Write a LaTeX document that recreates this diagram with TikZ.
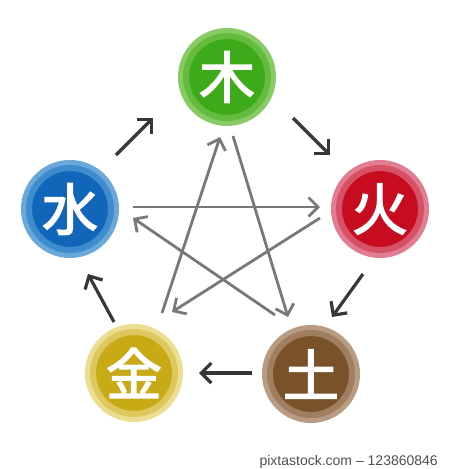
\documentclass[tikz,border=0pt]{standalone}
\usepackage{fontspec}
\usetikzlibrary{arrows.meta}
\newfontfamily\kanji{Noto Sans CJK JP}[FakeBold=2.5]
\newfontfamily\footfont{Liberation Sans}
\definecolor{gIn}{RGB}{60,170,25}\definecolor{gMid}{RGB}{100,187,62}\definecolor{gOut}{RGB}{135,203,100}
\definecolor{rIn}{RGB}{200,12,32}\definecolor{rMid}{RGB}{214,80,102}\definecolor{rOut}{RGB}{226,125,145}
\definecolor{bIn}{RGB}{18,102,186}\definecolor{bMid}{RGB}{62,140,205}\definecolor{bOut}{RGB}{105,168,217}
\definecolor{yIn}{RGB}{200,170,22}\definecolor{yMid}{RGB}{220,200,92}\definecolor{yOut}{RGB}{236,222,145}
\definecolor{nIn}{RGB}{122,82,42}\definecolor{nMid}{RGB}{160,126,96}\definecolor{nOut}{RGB}{184,155,130}
\definecolor{darkarrow}{RGB}{55,55,55}
\definecolor{stararrow}{RGB}{120,120,120}
\definecolor{foottext}{RGB}{80,80,80}
\begin{document}
\begin{tikzpicture}[x=1pt,y=-1pt,
  elem/.style n args={3}{circle, minimum size=82pt, inner sep=0pt, outer sep=0pt,
    fill=#1, draw=#2, line width=6pt, preaction={draw=#3, line width=16pt},
    text=white, font=\kanji\fontsize{56}{56}\selectfont},
  cyclearrow/.style={draw=darkarrow, line width=3.2pt,
    -{Straight Barb[length=10pt,width=20pt]}},
  stararr/.style={draw=stararrow, line width=2.8pt,
    -{Straight Barb[length=9.5pt,width=19pt]}}]
\useasboundingbox (0,0) rectangle (450,469);
% elements
\node[elem={gIn}{gMid}{gOut}] (moku) at (227,77) {木};
\node[elem={rIn}{rMid}{rOut}] (ka) at (380,209) {火};
\node[elem={nIn}{nMid}{nOut}] (do) at (311,374) {土};
\node[elem={yIn}{yMid}{yOut}] (kin) at (134,373) {金};
\node[elem={bIn}{bMid}{bOut}] (sui) at (70,209) {水};
% arrow end points
\coordinate (c1s) at (293,118); \coordinate (c1e) at (330,155);
\coordinate (c2s) at (363,274); \coordinate (c2e) at (332,317);
\coordinate (c3s) at (252,373); \coordinate (c3e) at (199,373);
\coordinate (c4s) at (114,322); \coordinate (c4e) at (88,274);
\coordinate (c5s) at (116,155); \coordinate (c5e) at (153,118);
\coordinate (s1s) at (133,207); \coordinate (s1e) at (320,207);
\coordinate (s2s) at (320,218); \coordinate (s2e) at (172,312);
\coordinate (s3s) at (162,313); \coordinate (s3e) at (220,137);
\coordinate (s4s) at (233,136); \coordinate (s4e) at (288,317);
\coordinate (s5s) at (275,315); \coordinate (s5e) at (133,218);
% cycle arrows
\draw[cyclearrow] (c1s) -- (c1e);
\draw[cyclearrow] (c2s) -- (c2e);
\draw[cyclearrow] (c3s) -- (c3e);
\draw[cyclearrow] (c4s) -- (c4e);
\draw[cyclearrow] (c5s) -- (c5e);
% star arrows
\draw[stararr] (s1s) -- (s1e);
\draw[stararr] (s2s) -- (s2e);
\draw[stararr] (s3s) -- (s3e);
\draw[stararr] (s4s) -- (s4e);
\draw[stararr] (s5s) -- (s5e);
% footer
\node[anchor=east, inner sep=0pt, text=foottext, font=\footfont\fontsize{14}{14}\selectfont] (foot) at (438,462) {pixtastock.com – 123860846};
\end{tikzpicture}
\end{document}
